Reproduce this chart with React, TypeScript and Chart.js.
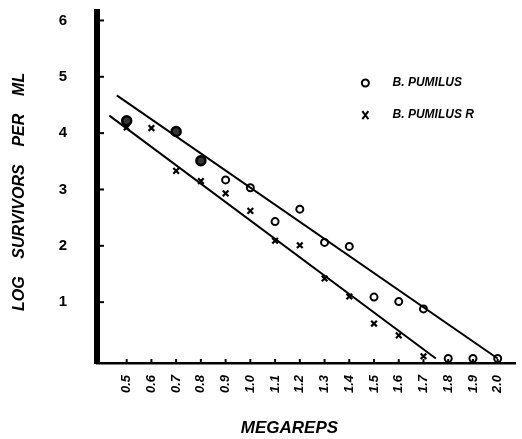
import React, { useEffect, useRef } from "react";
import { Chart, registerables } from "chart.js";
Chart.register(...registerables);

// Megareps tick values and labels
const xTickValues = [0.5, 0.6, 0.7, 0.8, 0.9, 1.0, 1.1, 1.2, 1.3, 1.4, 1.5, 1.6, 1.7, 1.8, 1.9, 2.0];
const xTickLabels = ["0.5", "0.6", "0.7", "0.8", "0.9", "1.0", "1.1", "1.2", "1.3", "1.4", "1.5", "1.6", "1.7", "1.8", "1.9", "2.0"];
const yTickValues = [1, 2, 3, 4, 5, 6];

// B. pumilus (circles)
const pumilusX = [0.5, 0.7, 0.8, 0.9, 1.0, 1.1, 1.2, 1.3, 1.4, 1.5, 1.6, 1.7, 1.8, 1.9, 2.0];
const pumilusY = [4.22, 4.03, 3.51, 3.17, 3.03, 2.43, 2.65, 2.06, 1.99, 1.09, 1.01, 0.88, 0, 0, 0];

// B. pumilus R (crosses)
const pumilusRX = [0.5, 0.6, 0.7, 0.8, 0.9, 1.0, 1.1, 1.2, 1.3, 1.4, 1.5, 1.6, 1.7];
const pumilusRY = [4.1, 4.09, 3.33, 3.15, 2.93, 2.62, 2.09, 2.01, 1.42, 1.1, 0.62, 0.41, 0.04];

// Fitted lines (end points)
const upperFitX = [0.46, 2.0];
const upperFitY = [4.67, 0];
const lowerFitX = [0.43, 1.75];
const lowerFitY = [4.31, 0];

const legendLabels = ["B. PUMILUS", "B. PUMILUS R"];

const FONT = "'Liberation Sans', 'DejaVu Sans', sans-serif";

const zip = (xs: number[], ys: number[]) => xs.map((x, i) => ({ x, y: ys[i] }));

const innerTicks = {
  id: "innerTicks",
  afterDraw(chart: any) {
    const { ctx, chartArea, scales } = chart;
    const xs = scales.x;
    const ys = scales.y;
    ctx.save();
    ctx.strokeStyle = "#000";
    ctx.lineWidth = 2;
    xTickValues.forEach((v) => {
      const px = xs.getPixelForValue(v);
      ctx.beginPath();
      ctx.moveTo(px, chartArea.bottom);
      ctx.lineTo(px, chartArea.bottom - 4);
      ctx.stroke();
    });
    yTickValues.forEach((v) => {
      const py = ys.getPixelForValue(v);
      ctx.beginPath();
      ctx.moveTo(chartArea.left, py);
      ctx.lineTo(chartArea.left + 7, py);
      ctx.stroke();
    });
    // legend
    ctx.fillStyle = "#000";
    ctx.font = `italic bold 12px ${FONT}`;
    ctx.textBaseline = "middle";
    const lx = xs.getPixelForValue(1.465);
    const tx = xs.getPixelForValue(1.575);
    const ly1 = ys.getPixelForValue(4.89);
    const ly2 = ys.getPixelForValue(4.32);
    ctx.lineWidth = 2;
    ctx.beginPath();
    ctx.arc(lx, ly1, 3.5, 0, Math.PI * 2);
    ctx.stroke();
    ctx.beginPath();
    ctx.moveTo(lx - 3, ly2 - 4);
    ctx.lineTo(lx + 3, ly2 + 4);
    ctx.moveTo(lx + 3, ly2 - 4);
    ctx.lineTo(lx - 3, ly2 + 4);
    ctx.stroke();
    ctx.fillText(legendLabels[0], tx, ly1);
    ctx.fillText(legendLabels[1], tx, ly2);
    ctx.restore();
  },
};

export default function App() {
  const ref = useRef<HTMLCanvasElement>(null);
  useEffect(() => {
    document.body.style.margin = "0";
    const chart = new Chart(ref.current!, {
      type: "scatter",
      data: {
        datasets: [
          {
            label: "upper fit",
            type: "line",
            data: zip(upperFitX, upperFitY),
            borderColor: "#000",
            borderWidth: 2,
            pointRadius: 0,
            fill: false,
          } as any,
          {
            label: "lower fit",
            type: "line",
            data: zip(lowerFitX, lowerFitY),
            borderColor: "#000",
            borderWidth: 2,
            pointRadius: 0,
            fill: false,
          } as any,
          {
            label: legendLabels[0],
            data: zip(pumilusX, pumilusY),
            pointStyle: "circle",
            pointRadius: (c: any) => (c.dataIndex < 3 ? 4.5 : 3.5),
            borderColor: "#000",
            backgroundColor: (c: any) => (c.dataIndex < 3 ? "#333" : "#fff"),
            borderWidth: (c: any) => (c.dataIndex < 3 ? 2.5 : 2),
          },
          {
            label: legendLabels[1],
            data: zip(pumilusRX, pumilusRY),
            pointStyle: "crossRot",
            pointRadius: 4,
            borderColor: "#000",
            borderWidth: 2.2,
          },
        ],
      },
      options: {
        animation: false,
        responsive: false,
        layout: { padding: { top: 12, right: 1, left: 0, bottom: 0 } },
        plugins: { legend: { display: false }, tooltip: { enabled: false } },
        scales: {
          x: {
            type: "linear",
            min: 0.38,
            max: 2.07,
            afterBuildTicks: (s: any) => {
              s.ticks = xTickValues.map((v) => ({ value: v }));
            },
            afterFit: (s: any) => {
              s.height = 76;
              s.paddingLeft = 0;
              s.paddingRight = 0;
            },
            grid: { display: false, drawTicks: false },
            border: { display: true, color: "#000", width: 2.5 },
            ticks: {
              autoSkip: false,
              maxRotation: 90,
              minRotation: 90,
              padding: 12,
              color: "#000",
              font: { family: FONT, size: 13, weight: "bold", style: "italic" },
              callback: (v: any) => {
                const i = xTickValues.findIndex((t) => Math.abs(t - v) < 1e-6);
                return i >= 0 ? xTickLabels[i] : "";
              },
            },
            title: {
              display: true,
              text: "MEGAREPS       ",
              color: "#000",
              font: { family: FONT, size: 17, weight: "bold", style: "italic" },
              padding: { top: 0, bottom: 0 },
            },
          },
          y: {
            type: "linear",
            min: -0.08,
            max: 6.15,
            afterBuildTicks: (s: any) => {
              s.ticks = yTickValues.map((v) => ({ value: v }));
            },
            afterFit: (s: any) => {
              s.width = 97;
              s.paddingTop = 0;
              s.paddingBottom = 0;
            },
            grid: { display: false, drawTicks: false },
            border: { display: true, color: "#000", width: 6 },
            ticks: {
              padding: 30,
              color: "#000",
              font: { family: FONT, size: 15, weight: "bold" },
              callback: (v: any) => String(v),
            },
            title: {
              display: true,
              text: "LOG    SURVIVORS    PER    ML  ",
              color: "#000",
              font: { family: FONT, size: 16, weight: "bold", style: "italic" },
              padding: { top: 10, bottom: 0 },
            },
          },
        },
      },
      plugins: [innerTicks],
    } as any);
    return () => chart.destroy();
  }, []);
  return <canvas ref={ref} width={522} height={439} style={{ display: "block" }} />;
}
